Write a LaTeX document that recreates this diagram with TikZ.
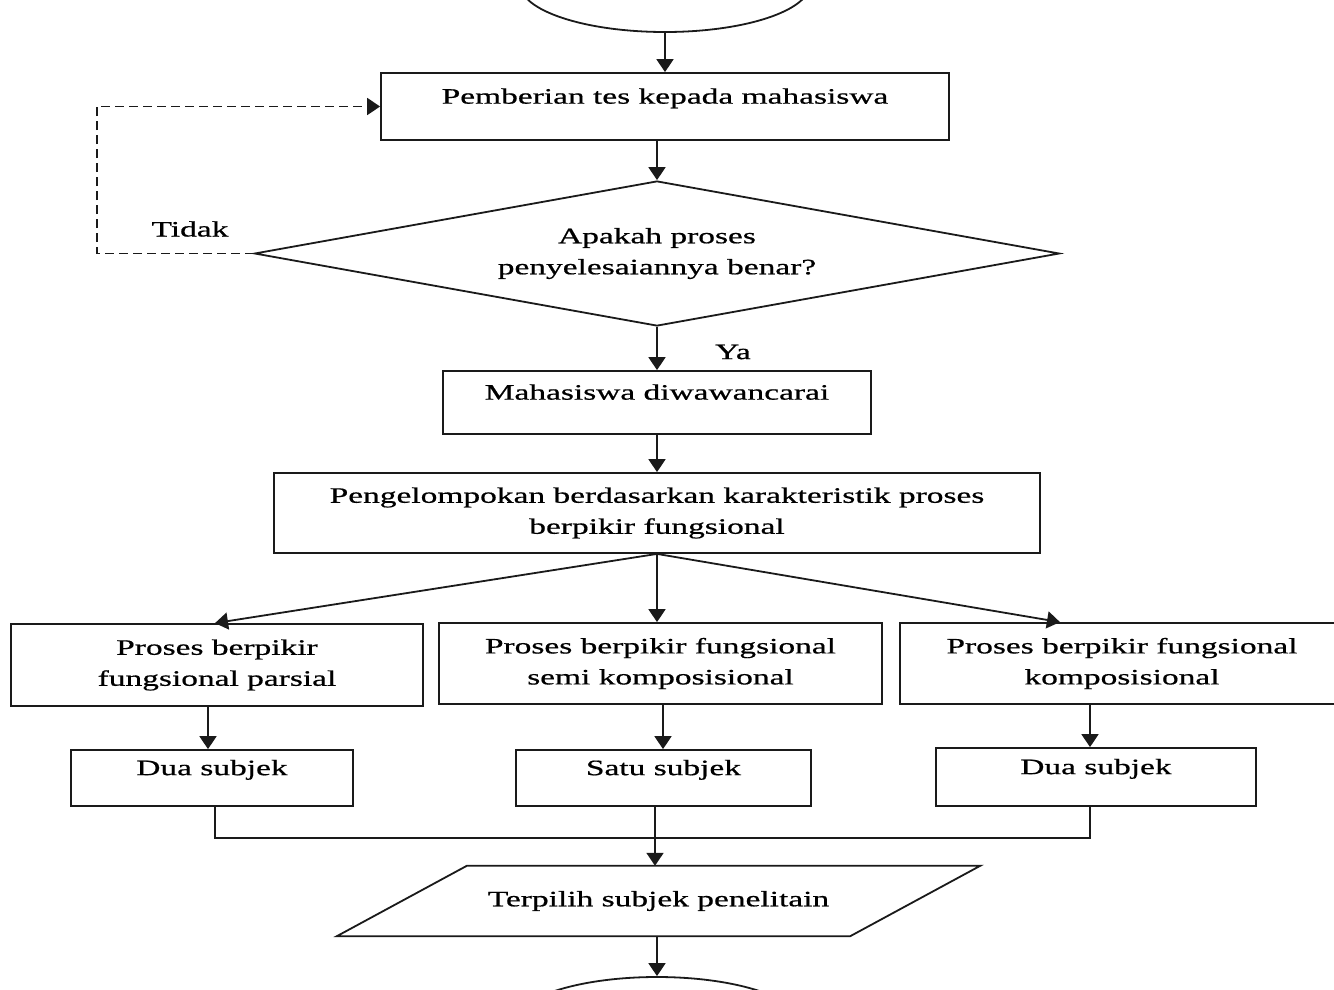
\documentclass[tikz,border=0pt]{standalone}
\usepackage{fontspec}
\setmainfont{Liberation Serif}[FakeStretch=1.52,FakeBold=0.7]
\usetikzlibrary{arrows.meta,calc,positioning,shapes.geometric}
\definecolor{flowInk}{HTML}{1A1A1A}

\begin{document}
\begin{tikzpicture}[x=1pt,y=-1pt,>={Triangle[length=13pt,width=17pt]},line cap=butt,line join=miter,font=\fontsize{22}{31}\selectfont]
\path[fill=white] (0,0) rectangle (1334,989);
\useasboundingbox (0,0) rectangle (1334,989);
\tikzset{box/.style={draw=flowInk,line width=1.8pt,rectangle,inner sep=4pt,align=center},lifted/.style={text depth=21pt},term/.style={draw=flowInk,line width=1.8pt,ellipse,minimum width=290pt,minimum height=96pt},link/.style={draw=flowInk,line width=1.8pt,->},dashlink/.style={link,dash pattern=on 9pt off 5pt}}
\node[term] (start) at (665,-16) {};
\node[box,lifted,minimum width=568pt,minimum height=67pt] (test) at (665,106.5) {Pemberian tes kepada mahasiswa};
\node[box,diamond,inner sep=0pt,shape aspect=5.55,minimum width=805pt,minimum height=145pt] (check) at (657,253.5) {Apakah proses\\penyelesaiannya benar?};
\coordinate (loop) at (97,253.5);
\node (no) at (190,229) {Tidak};
\node[box,lifted,minimum width=428pt,minimum height=63pt] (interview) at (657,402.5) {Mahasiswa diwawancarai};
\node (yes) at (733,352) {Ya};
\node[box,minimum width=766pt,minimum height=80pt] (group) at (657,513) {Pengelompokan berdasarkan karakteristik proses\\berpikir fungsional};
\node[box,minimum width=412pt,minimum height=82pt] (partial) at (217,665) {Proses berpikir\\fungsional parsial};
\node[box,minimum width=443pt,minimum height=81pt] (semi) at (660.5,663.5) {Proses berpikir fungsional\\semi komposisional};
\node[box,minimum width=444pt,minimum height=81pt] (full) at (1122,663.5) {Proses berpikir fungsional\\komposisional};
\node[box,lifted,minimum width=282pt,minimum height=56pt] (twoA) at (212,778) {Dua subjek};
\node[box,lifted,minimum width=295pt,minimum height=56pt] (one) at (663.5,778) {Satu subjek};
\node[box,lifted,minimum width=320pt,minimum height=58pt] (twoB) at (1096,777) {Dua subjek};
\coordinate (merge) at (655,838);
\node[minimum width=513pt,minimum height=70pt,inner sep=0pt] (chosen) at (658.5,901) {Terpilih subjek penelitain};
\draw[draw=flowInk,line width=1.8pt] ([xshift=65pt]chosen.north west) -- ([xshift=65pt]chosen.north east) -- ([xshift=-65pt]chosen.south east) -- ([xshift=-65pt]chosen.south west) -- cycle;
\node[term] (finish) at (657,1025) {};
% connectors
\draw[link] (start.south) -- (test.north);
\draw[link] (check.north |- test.south) -- (check.north);
\draw[dashlink] (check.west) -- (loop) |- (test.west);
\draw[link] (check.south) -- (interview.north);
\draw[link] (interview.south) -- (group.north);
\draw[link] (group.south) -- ([xshift=-2pt]partial.north);
\draw[link] (group.south) -- (group.south |- semi.north);
\draw[link] (group.south) -- ([xshift=-62pt]full.north);
\draw[link] ([xshift=-4pt]twoA.north |- partial.south) -- ([xshift=-4pt]twoA.north);
\draw[link] ([xshift=-0.5pt]one.north |- semi.south) -- ([xshift=-0.5pt]one.north);
\draw[link] ([xshift=-6pt]twoB.north |- full.south) -- ([xshift=-6pt]twoB.north);
\draw[draw=flowInk,line width=1.8pt] ([xshift=3pt]twoA.south) |- (merge) -| ([xshift=-6pt]twoB.south);
\draw[link] (merge |- one.south) -- (merge |- chosen.north);
\draw[link] (chosen.south -| finish.north) -- (finish.north);
\end{tikzpicture}
\end{document}
